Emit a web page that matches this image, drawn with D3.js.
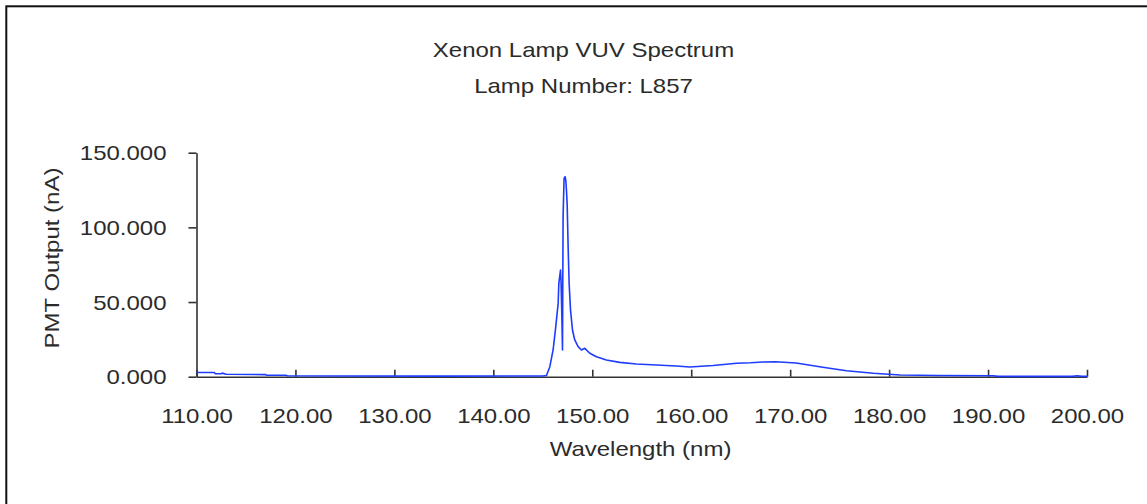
<!DOCTYPE html>
<html>
<head>
<meta charset="utf-8">
<script src="https://cdn.jsdelivr.net/npm/d3@7"></script>
<style>
  body { margin: 0; background: #fff; }
  svg { display: block; }
  text { font-family: "Liberation Sans", Arial, sans-serif; fill: #2b2b2b; }
</style>
</head>
<body>
<svg width="1147" height="504"></svg>
<script>
// spectrum: wavelength (nm) and PMT output (nA)
var wavelength = [110.0, 111.8, 111.9, 112.5, 112.6, 113.0, 117.0, 117.1, 119.0, 119.2,
  125.0, 135.0, 145.0, 145.37, 145.71, 146.04, 146.31, 146.55, 146.62, 146.79,
  146.85, 146.92, 146.99, 147.05, 147.15, 147.25, 147.32, 147.39, 147.46, 147.56,
  147.66, 147.8, 148.0, 148.23, 148.57, 148.9, 149.24, 149.75, 150.42, 151.43,
  152.78, 154.46, 156.48, 158.5, 159.85, 162.2, 164.6, 166.0, 167.25, 168.5,
  170.6, 173.3, 175.7, 178.4, 181.1, 185.0, 190.5, 191.0, 198.5, 199.0,
  199.5, 200.0];
var pmtOutput = [2.8, 2.8, 2.0, 2.0, 2.4, 1.6, 1.4, 1.0, 1.0, 0.6,
  0.5, 0.4, 0.5, 0.8, 6.7, 17.9, 33.5, 49.1, 62.5, 71.4,
  62.5, 42.4, 17.9, 107.0, 132.8, 133.9, 131.7, 125.0, 116.0, 87.0,
  62.5, 44.7, 31.3, 24.6, 20.1, 17.9, 19.0, 15.7, 13.4, 11.2,
  9.6, 8.5, 7.8, 7.2, 6.5, 7.5, 9.0, 9.3, 9.8, 10.0,
  9.2, 6.3, 4.0, 2.3, 1.1, 0.8, 0.6, 0.2, 0.2, 0.6,
  0.2, 0.2];

var xTicks = [110, 120, 130, 140, 150, 160, 170, 180, 190, 200];
var yTicks = [0, 50, 100, 150];

var titleLines = ["Xenon Lamp VUV Spectrum", "Lamp Number: L857"];

var svg = d3.select("svg"),
  margin = {top: 152.7, left: 196.5},
  width = 1087 - margin.left,
  height = 376.7 - margin.top,
  stretch = "scale(1.2,1)"; // the glyphs in the picture are wider than Arial

// outer frame, only its top and left edges fall inside the window
svg.append("rect")
  .attr("x", 6.3)
  .attr("y", 6.3)
  .attr("width", 1300)
  .attr("height", 700)
  .attr("fill", "none")
  .attr("stroke", "#111")
  .attr("stroke-width", 2);

var x = d3.scaleLinear().domain([110, 200]).range([0, width]),
  y = d3.scaleLinear().domain([0, 150]).range([height, 0]);

var g = svg.append("g")
  .attr("transform", "translate(" + margin.left + "," + margin.top + ")");

var xAxis = g.append("g")
  .attr("class", "axis axis--x")
  .attr("transform", "translate(0," + height + ")")
  .call(d3.axisBottom(x).tickValues(xTicks).tickSizeInner(-7).tickSizeOuter(0)
    .tickFormat(function(d) { return d3.format(".2f")(d); }));

var yAxis = g.append("g")
  .attr("class", "axis axis--y")
  .call(d3.axisLeft(y).tickValues(yTicks).tickSizeInner(8).tickSizeOuter(0)
    .tickFormat(function(d) { return d3.format(".3f")(d); }));

g.selectAll(".axis path, .axis line")
  .attr("stroke", "#333")
  .attr("stroke-width", 1.6);

xAxis.selectAll("text")
  .attr("y", 46)
  .attr("dy", 0)
  .attr("font-size", 20)
  .attr("fill", "#2b2b2b")
  .attr("transform", stretch);

yAxis.selectAll("text")
  .attr("x", 0)
  .attr("dy", "0.36em")
  .attr("font-size", 20)
  .attr("fill", "#2b2b2b")
  .attr("transform", "translate(-30,0) " + stretch);

var line = d3.line()
  .x(function(d, i) { return x(wavelength[i]); })
  .y(function(d) { return y(d); });

g.append("path")
  .datum(pmtOutput)
  .attr("fill", "none")
  .attr("stroke", "#1e3cff")
  .attr("stroke-width", 1.6)
  .attr("stroke-linejoin", "round")
  .attr("d", line);

svg.selectAll(".title")
  .data(titleLines)
  .enter().append("text")
  .attr("class", "title")
  .attr("text-anchor", "middle")
  .attr("font-size", 20)
  .attr("transform", function(d, i) {
    return "translate(583.5," + (57.3 + i * 36) + ") " + stretch;
  })
  .text(function(d) { return d; });

svg.append("text")
  .attr("text-anchor", "middle")
  .attr("font-size", 20)
  .attr("transform", "translate(640.5,456) " + stretch)
  .text("Wavelength (nm)");

svg.append("text")
  .attr("text-anchor", "middle")
  .attr("font-size", 20)
  .attr("transform", "translate(58.5,258) rotate(-90) " + stretch)
  .text("PMT Output (nA)");
</script>
</body>
</html>
